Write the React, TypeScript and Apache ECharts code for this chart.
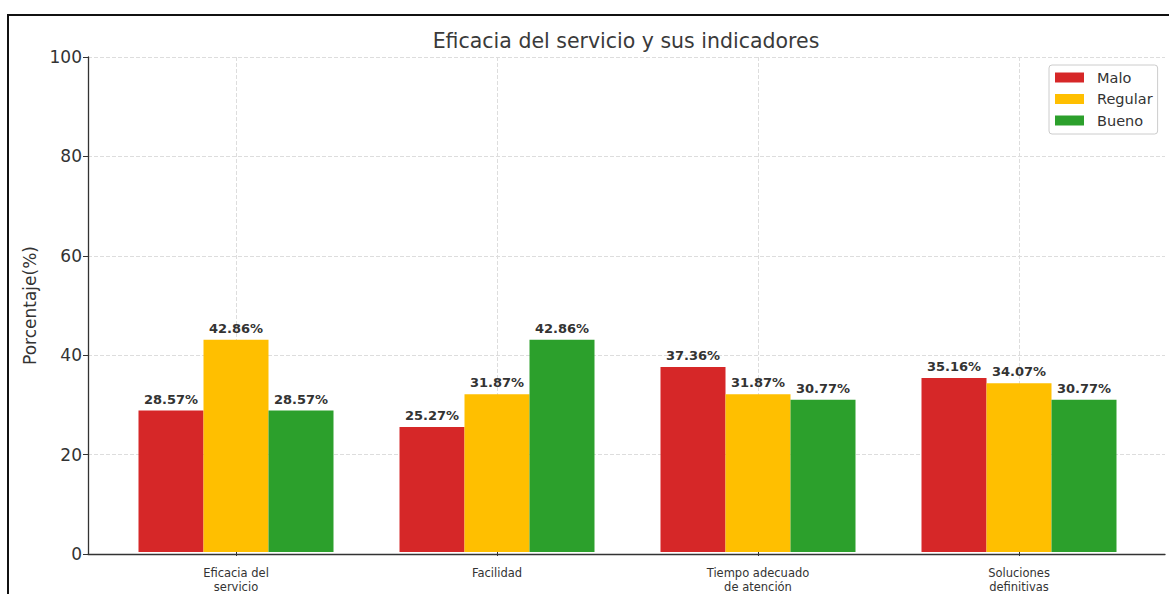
import React, { useEffect, useRef } from "react";
import * as echarts from "echarts";

const categories = ["Eficacia del\nservicio", "Facilidad", "Tiempo adecuado\nde atención", "Soluciones\ndefinitivas"];
const seriesNames = ["Malo", "Regular", "Bueno"];
const malo = [28.57, 25.27, 37.36, 35.16];
const regular = [42.86, 31.87, 31.87, 34.07];
const bueno = [28.57, 42.86, 30.77, 30.77];
const colors = ["#d62728", "#ffbf00", "#2ca02c"];
const yTicks = [0, 20, 40, 60, 80, 100];

const FONT = "DejaVu Sans";

export default function App() {
  const ref = useRef<HTMLDivElement>(null);
  useEffect(() => {
    if (!ref.current) return;
    const chart = echarts.init(ref.current, undefined, { renderer: "svg" });
    const values = [malo, regular, bueno];
    const gridTop = 57;
    const gridHeight = 497;
    const option: any = {
      animation: false,
      backgroundColor: "#ffffff",
      textStyle: { fontFamily: FONT },
      title: {
        text: "Eficacia del servicio y sus indicadores",
        left: 626,
        textAlign: "center",
        top: 30,
        padding: 0,
        textStyle: { fontFamily: FONT, fontSize: 20.5, fontWeight: "normal", color: "#3a3a3a" },
      },
      legend: {
        data: seriesNames,
        orient: "vertical",
        left: 1049,
        top: 65,
        padding: [5, 5, 6, 6],
        itemGap: 6.5,
        itemWidth: 29,
        itemHeight: 10,
        icon: "rect",
        borderColor: "#cccccc",
        borderWidth: 1,
        borderRadius: 3,
        backgroundColor: "#ffffff",
        textStyle: { fontFamily: FONT, fontSize: 14.5, color: "#333333", padding: [0, 0, 0, 8] },
      },
      graphic: [
        {
          type: "rect",
          shape: { x: 8, y: 15, width: 1300, height: 700 },
          style: { fill: "none", stroke: "#111111", lineWidth: 2 },
          silent: true,
          z: 100,
        },
      ],
      grid: [
        { left: 88, top: gridTop, width: 1077, height: gridHeight, containLabel: false },
        { left: 236, top: gridTop, width: 783, height: gridHeight, containLabel: false },
      ],
      xAxis: [
        {
          type: "value",
          gridIndex: 0,
          min: -0.5625,
          max: 3.5625,
          axisLine: { show: true, onZero: false, lineStyle: { color: "#333333", width: 1.3 } },
          axisTick: { show: false },
          axisLabel: { show: false },
          splitLine: { show: false },
        },
        {
          type: "value",
          gridIndex: 1,
          min: 0,
          max: categories.length - 1,
          interval: 1,
          axisLine: { show: false, onZero: false },
          axisTick: { show: true, length: 4, lineStyle: { color: "#333333", width: 1 } },
          axisLabel: {
            show: true,
            margin: 14,
            fontFamily: FONT,
            fontSize: 11.5,
            lineHeight: 14,
            color: "#333333",
            formatter: (v: number) => categories[Math.round(v)] ?? "",
          },
          splitLine: { show: true, lineStyle: { color: "#dddddd", type: "dashed", width: 1 } },
        },
      ],
      yAxis: [
        {
          type: "value",
          gridIndex: 0,
          min: yTicks[0],
          max: yTicks[yTicks.length - 1],
          interval: 20,
          name: "Porcentaje(%)",
          nameLocation: "middle",
          nameGap: 41,
          nameTextStyle: { fontFamily: FONT, fontSize: 17, color: "#333333" },
          axisLine: { show: true, onZero: false, lineStyle: { color: "#333333", width: 1.3 } },
          axisTick: { show: true, length: 5, lineStyle: { color: "#333333" } },
          axisLabel: { fontFamily: FONT, fontSize: 17, color: "#333333", margin: 6 },
          splitLine: { show: true, lineStyle: { color: "#dddddd", type: "dashed", width: 1 } },
        },
        {
          type: "value",
          gridIndex: 1,
          min: yTicks[0],
          max: yTicks[yTicks.length - 1],
          show: false,
          axisLine: { show: false, onZero: false },
          axisTick: { show: false },
          axisLabel: { show: false },
          splitLine: { show: false },
        },
      ],
      series: seriesNames.map((name, si) => ({
        name,
        type: "bar",
        xAxisIndex: 1,
        yAxisIndex: 1,
        barWidth: 65,
        barGap: "0%",
        clip: false,
        itemStyle: { color: colors[si] },
        label: {
          show: true,
          position: "top",
          distance: 5,
          fontFamily: FONT,
          fontSize: 13,
          fontWeight: "bold",
          color: "#333333",
          formatter: (p: any) => `${Number(p.value[1]).toFixed(2)}%`,
        },
        data: values[si].map((v, i) => [i, v]),
      })),
    };
    chart.setOption(option);
    return () => chart.dispose();
  }, []);
  return (
    <div
      ref={ref}
      style={{ position: "fixed", left: 0, top: 0, width: 1169, height: 594, background: "#fff" }}
    />
  );
}
